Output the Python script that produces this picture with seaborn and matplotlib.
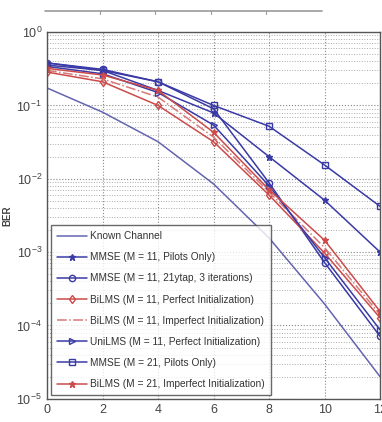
import numpy as np
import pandas as pd
import matplotlib
matplotlib.use("Agg")
import matplotlib.pyplot as plt
import matplotlib.ticker as mticker
from matplotlib.lines import Line2D
import seaborn as sns

# SNR points (dB)
snr = [0, 2, 4, 6, 8, 10, 12]

# BER values
known = [0.173, 0.081, 0.032, 0.0085, 0.00156, 1.96e-4, 2.0e-5]
mmse11_pilot = [0.38, 0.30, 0.16, 0.079, 0.020, 5.1e-3, 1.0e-3]
mmse11_21tap = [0.38, 0.31, 0.21, 0.09, 8.8e-3, 7.2e-4, 7.1e-5]
bilms11_perf = [0.285, 0.21, 0.10, 0.032, 6.0e-3, 9.7e-4, 1.27e-4]
bilms11_imp = [0.30, 0.23, 0.13, 0.037, 6.6e-3, 1.15e-3, 1.4e-4]
unilms11_perf = [0.34, 0.27, 0.15, 0.054, 8.0e-3, 8.4e-4, 8.7e-5]
mmse21_pilot = [0.355, 0.30, 0.21, 0.10, 0.052, 0.0154, 4.2e-3]
bilms21_imp = [0.32, 0.26, 0.16, 0.043, 7.1e-3, 1.45e-3, 1.55e-4]

labels = ["Known Channel",
          "MMSE (M = 11, Pilots Only)",
          "MMSE (M = 11, 21ytap, 3 iterations)",
          "BiLMS (M = 11, Perfect Initialization)",
          "BiLMS (M = 11, Imperfect Initialization)",
          "UniLMS (M = 11, Perfect Initialization)",
          "MMSE (M = 21, Pilots Only)",
          "BiLMS (M = 21, Imperfect Initialization)"]

blue = "#3a3aa6"
lblue = "#6464b0"
red = "#cc4a4a"
lred = "#d87878"

styles = [
    dict(color=lblue, marker="None", linestyle="-"),
    dict(color=blue, marker="*", linestyle="-", markersize=4.5, markerfacecolor=blue),
    dict(color=blue, marker="o", linestyle="-", markersize=4.5, markerfacecolor="none"),
    dict(color=red, marker="d", linestyle="-", markersize=4.5, markerfacecolor="none"),
    dict(color=lred, marker="None", linestyle="-."),
    dict(color=blue, marker=">", linestyle="-", markersize=4.5, markerfacecolor="none"),
    dict(color=blue, marker="s", linestyle="-", markersize=4.5, markerfacecolor="none"),
    dict(color=red, marker="*", linestyle="-", markersize=4.5, markerfacecolor=red),
]
values = [known, mmse11_pilot, mmse11_21tap, bilms11_perf, bilms11_imp,
          unilms11_perf, mmse21_pilot, bilms21_imp]

sns.set_style("white")
plt.rcParams["font.family"] = ["Liberation Sans", "DejaVu Sans"]

fig = plt.figure(figsize=(3.82, 4.22), dpi=100)
ax = fig.add_axes([0.123, 0.055, 0.872, 0.869])

for vals, st, lab in zip(values, styles, labels):
    df = pd.DataFrame({"snr": snr, "ber": vals})
    sns.lineplot(data=df, x="snr", y="ber", ax=ax, label=lab, color=st["color"])
    ln = ax.lines[-1]
    ln.set(linewidth=1.1, markeredgewidth=1.0, markeredgecolor=st["color"], **st)

ax.set_yscale("log")
ax.set_ylim(1e-5, 1)
ax.set_xlim(0, 12)
ax.set_xticks(snr)
ax.yaxis.set_major_locator(mticker.LogLocator(base=10, numticks=10))
ax.yaxis.set_minor_locator(mticker.LogLocator(base=10, subs=np.arange(2, 10), numticks=10))
ax.grid(True, which="major", linestyle=":", color="#888888", lw=0.8)
ax.grid(True, which="minor", linestyle=":", color="#aaaaaa", lw=0.7)
ax.tick_params(direction="in", which="both", labelsize=9, colors="#444444")
ax.tick_params(which="minor", length=2)
for s in ax.spines.values():
    s.set_color("#555555")
    s.set_linewidth(1.0)
ax.set_xlabel("")
ax.set_ylabel("BER", fontsize=7, fontweight="bold", color="#444444", labelpad=3)

leg = ax.legend(loc="lower left", fontsize=7.3, handlelength=3.0, labelspacing=1.1,
                borderpad=0.6, frameon=True, fancybox=False, handletextpad=0.3,
                borderaxespad=0.35)
leg.get_frame().set_edgecolor("#444444")
leg.get_frame().set_linewidth(1.0)
for t in leg.get_texts():
    t.set_color("#333333")

# remnant of the plot above
fig.add_artist(Line2D([0.118, 0.843], [0.974, 0.974], color="#999999", lw=1.2))
for xx in [0.262, 0.406, 0.552, 0.697]:
    fig.add_artist(Line2D([xx, xx], [0.974, 0.966], color="#999999", lw=0.8))

fig.savefig("out.png", dpi=100)
